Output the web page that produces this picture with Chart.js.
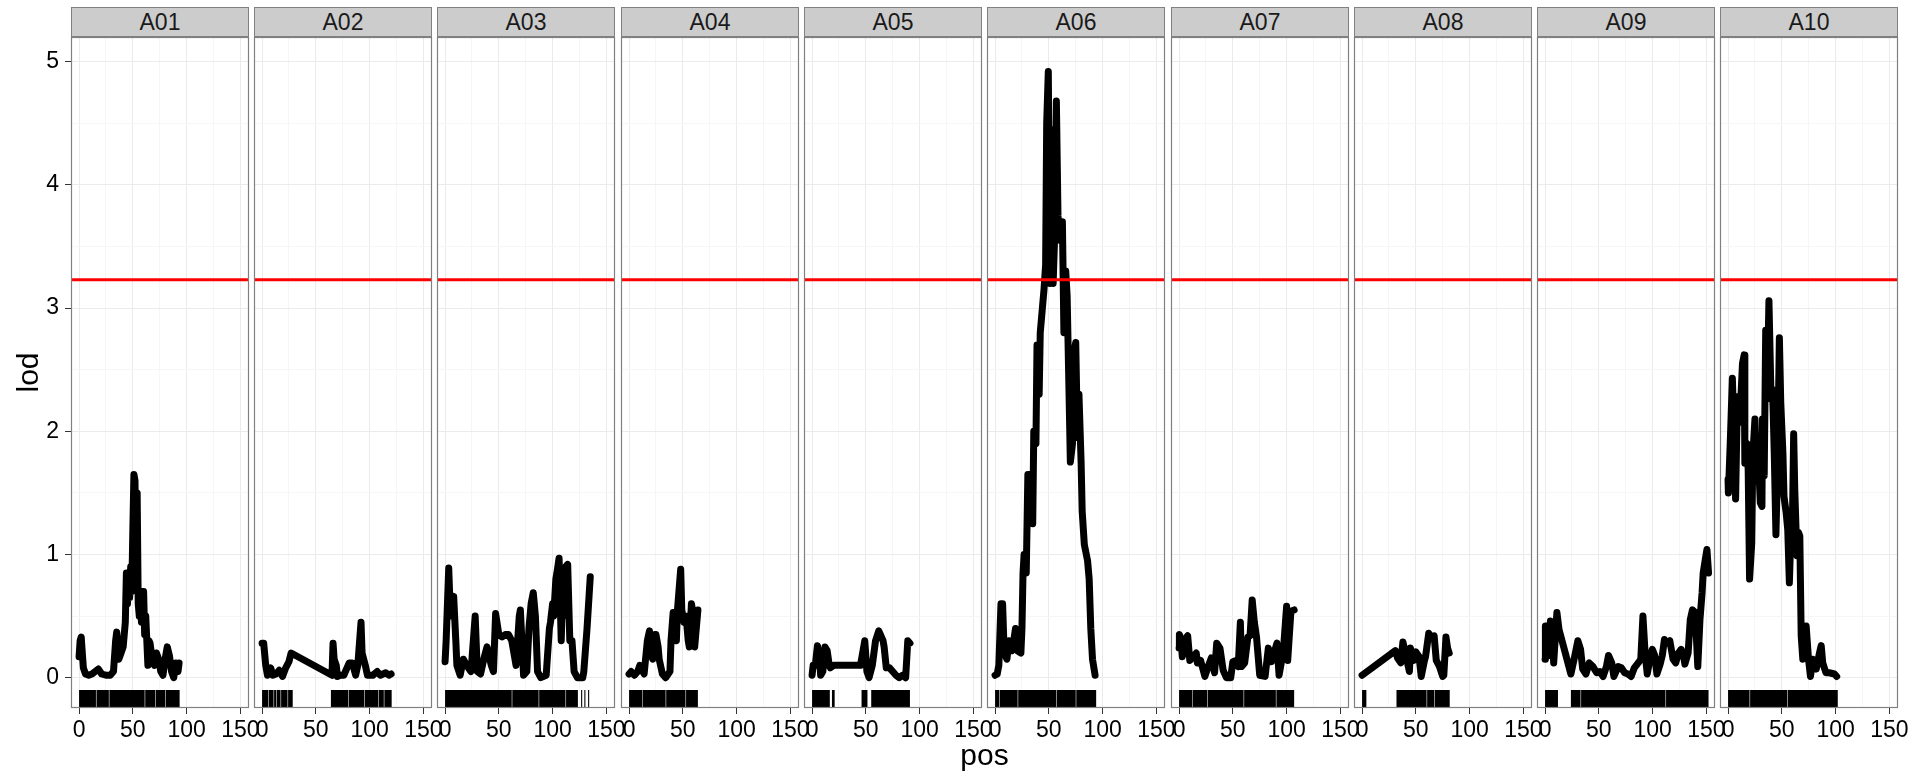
<!DOCTYPE html>
<html>
<head>
<meta charset="utf-8">
<script src="https://cdn.jsdelivr.net/npm/chart.js@4.4.1/dist/chart.umd.min.js"></script>
<style>
  html, body { margin: 0; padding: 0; background: #ffffff; }
  body { width: 1915px; height: 774px; position: relative; overflow: hidden;
         font-family: "Liberation Sans", Arial, Helvetica, sans-serif; }
  canvas.panel { position: absolute; top: 0; }
  .strip { position: absolute; top: 7px; height: 30px; box-sizing: border-box;
           background: #cccccc; border: 1px solid #808080; color: #1a1a1a;
           font-size: 23px; line-height: 28px; text-align: center; }
  .xtitle { position: absolute; left: 71px; width: 1827px; top: 740px;
            text-align: center; font-size: 30px; line-height: 30px; color: #000; }
</style>
</head>
<body>
<script>
// Chromosome facets
const chromosomes = ['A01', 'A02', 'A03', 'A04', 'A05', 'A06', 'A07', 'A08', 'A09', 'A10'];

// LOD profile per chromosome: position (cM) and LOD score
const posA01 = [0,1,2,3,4,6,9,12,15,18,21,25,29,32,34,35,37,39,41,43,44,45,46,47,48,49,50,51,52,53,54,55,56,57,58,59,60,61,62,64,65,66,68,70,72,74,76,78,80,82,84,86,88,90,92,93];
const lodA01 = [0.17,0.3,0.33,0.2,0.08,0.03,0.02,0.03,0.05,0.07,0.03,0.02,0.02,0.05,0.3,0.37,0.15,0.2,0.25,0.45,0.85,0.6,0.8,0.65,0.9,0.7,1.2,1.65,1.6,0.8,1.5,0.6,0.5,0.7,0.45,0.7,0.7,0.35,0.5,0.1,0.3,0.28,0.15,0.1,0.2,0.15,0.05,0.02,0.15,0.25,0.18,0.05,0.0,0.12,0.05,0.12];

const posA02 = [0,1.5,3.4,5,8,10,13,16,19,22,25,27,65,66,67,69,70,73,76,81,84,87,89,92,93,96,98,103,107,110,115,118,120];
const lodA02 = [0.28,0.28,0.1,0.02,0.08,0.02,0.03,0.06,0.01,0.08,0.13,0.2,0.02,0.28,0.15,0.1,0.01,0.02,0.02,0.12,0.12,0.02,0.1,0.45,0.2,0.1,0.02,0.02,0.05,0.02,0.04,0.02,0.03];

const posA03 = [0,1,3.4,5,8,10,11,14,17,20,24,25,28,30,33,36,39,43,45,47,50,53,56,59,62,66,69,70,73,76,78,80,82,84,86,89,94,97,98,100,101,103,104,106,108,109,110,112,114,116,118,120,123,128,129,132,135];
const lodA03 = [0.13,0.3,0.89,0.5,0.66,0.3,0.1,0.02,0.15,0.1,0.05,0.15,0.5,0.05,0.03,0.15,0.25,0.1,0.05,0.52,0.35,0.33,0.35,0.35,0.3,0.1,0.5,0.55,0.02,0.05,0.4,0.6,0.69,0.5,0.05,0.0,0.02,0.4,0.45,0.6,0.5,0.8,0.85,0.97,0.3,0.6,0.5,0.9,0.92,0.3,0.3,0.05,0.0,0.0,0.05,0.4,0.82];

const posA04 = [0,2,5,8,10,11,14,17,19,20,22,24,25,27,28,31,34,38,39,41,42,44,45,48,49,51,53,55,56,58,59,61,62,64];
const lodA04 = [0.03,0.05,0.02,0.05,0.1,0.08,0.03,0.3,0.38,0.2,0.15,0.35,0.35,0.25,0.15,0.03,0.0,0.05,0.3,0.53,0.45,0.3,0.55,0.88,0.55,0.45,0.5,0.3,0.25,0.6,0.55,0.25,0.35,0.55];

const posA05 = [0,1,3,5,7,8,10,12,14,16,17,20,45,49,51,53,56,59,62,66,67,69,72,75,78,81,84,87,89,91];
const lodA05 = [0.02,0.1,0.1,0.26,0.15,0.02,0.05,0.25,0.22,0.1,0.08,0.1,0.1,0.3,0.05,0.0,0.1,0.3,0.38,0.3,0.25,0.08,0.08,0.05,0.02,0.0,0.02,0.0,0.3,0.28];

const posA06 = [0,2,3.5,5.5,7,8.5,11,13,16,19,20.5,24,25,26,27,29,30.5,32,35,36,38,39,41,42,44,45.5,47,48,49.5,51,52.6,54,56,57,58.5,60,62.6,64,65.7,67,68.8,70,72,73.5,75,76.6,78,80,81,83,86,87.5,89,90.6,93];
const lodA06 = [0.02,0.03,0.1,0.6,0.6,0.2,0.15,0.3,0.22,0.4,0.22,0.2,0.4,0.85,1.0,0.85,1.65,1.65,1.25,2.0,1.9,2.7,2.3,2.8,3.0,3.15,3.35,4.5,4.92,3.2,4.45,3.2,3.75,4.68,3.75,3.55,3.7,2.8,3.3,3.1,2.3,1.75,1.9,2.65,2.72,1.95,2.3,1.75,1.35,1.08,0.95,0.8,0.4,0.15,0.02];

const posA07 = [0,0.3,2,3,7,8,10,13,16,17,20,24,27,30,33,35,38,41,44,48,50,53,55,57,58,61,64,66,68,70,72,75,80,83,86,89,91,93,97,100,101,104,107];
const lodA07 = [0.24,0.35,0.3,0.17,0.33,0.34,0.14,0.17,0.2,0.12,0.14,0.01,0.09,0.16,0.04,0.28,0.24,0.06,0.0,0.0,0.13,0.14,0.09,0.45,0.09,0.12,0.33,0.34,0.63,0.45,0.33,0.02,0.01,0.24,0.13,0.22,0.28,0.02,0.22,0.58,0.14,0.54,0.55];

const posA08 = [0,31,33,36,38,41,44,45,48,50,53,55,58,59,62,64,67,69,72,75,76,78,79.5,81];
const lodA08 = [0.02,0.22,0.16,0.12,0.29,0.17,0.05,0.24,0.14,0.21,0.17,0.01,0.14,0.17,0.36,0.33,0.34,0.14,0.09,0.01,0.02,0.33,0.24,0.2];

const posA09 = [0,0.3,2,3.4,5,6.5,8,11,13,24,27,30.5,33,35,38,41,44.5,48,51,54,57,59,62,64,68,71,74,77,80,83,86.6,89,91,93,95,97.5,99.7,102,104,107,109,111,113,116,119,121.5,124,126.5,128.7,130,133,135,137,139.6,142,144,146,147,149,150.5,152];
const lodA09 = [0.15,0.42,0.42,0.18,0.46,0.43,0.12,0.53,0.39,0.03,0.15,0.3,0.23,0.07,0.03,0.12,0.09,0.04,0.05,0.01,0.09,0.18,0.12,0.01,0.09,0.08,0.04,0.03,0.01,0.08,0.12,0.15,0.5,0.2,0.03,0.15,0.23,0.18,0.03,0.11,0.18,0.31,0.28,0.3,0.15,0.12,0.2,0.23,0.18,0.11,0.2,0.47,0.55,0.53,0.09,0.47,0.69,0.85,0.96,1.04,0.85];

const posA10 = [0,0.3,2,4,5.6,7,8.7,10,12,13.4,15,15.6,17.4,18.7,20,22,23,25,26.5,28,30,31.5,32,33.6,35,36.8,38,40,41.4,43,44.5,46,47.7,49,51,52,54,55.5,57,58.5,60,61,62,64,65.4,66.7,68,69.5,72.6,74.8,76.6,78.8,82,85,86.6,88,91,94,99,101];
const lodA10 = [1.61,1.5,1.9,2.43,1.96,1.45,2.28,2.07,2.28,2.55,2.62,1.74,1.9,1.69,0.8,1.09,1.8,2.1,1.64,1.82,1.42,1.39,2.1,1.64,2.82,2.5,3.06,2.26,2.34,1.8,1.16,1.69,2.76,2.23,1.82,1.47,1.34,1.2,0.77,1.2,1.36,1.98,1.53,0.99,1.18,1.15,0.34,0.15,0.42,0.15,0.01,0.15,0.07,0.2,0.26,0.12,0.04,0.04,0.03,0.01];

// Marker coverage (rug) per chromosome as [start, end] runs in cM
const rugA01 = [[0,15.7],[16.2,27.7],[28.2,61],[61.5,71],[71.5,80],[80.5,93.5]];
const rugA02 = [[0,5.7],[6.2,10.7],[11.2,13.2],[13.7,17.2],[17.7,23.7],[24.2,28.5],[64,80.2],[80.7,95.2],[95.7,108.2],[108.7,113.2],[113.7,120.5]];
const rugA03 = [[0,62],[62.5,87],[87.5,112],[112.5,123.5],[126.5,127.5],[129.5,130.5],[133,134]];
const rugA04 = [[0,12],[12.5,34],[34.5,52.5],[53,64]];
const rugA05 = [[0,16.5],[18.5,21],[46,51.5],[55,91]];
const rugA06 = [[0,4],[4.5,21],[21.5,57],[57.5,75],[75.5,94]];
const rugA07 = [[0,12],[12.5,26],[26.5,60],[60.5,90],[90.5,107]];
const rugA08 = [[0,4],[32,60],[60.5,67],[67.5,81.5]];
const rugA09 = [[0,12],[24,33],[33.5,112],[112.5,152]];
const rugA10 = [[0,20],[20.5,55],[55.5,102]];

// Significance threshold
const lodThreshold = 3.23;

// Axis ticks: labelled values and grid values
const xTickLabels = [0, 50, 100, 150];
const xGridValues = [0, 25, 50, 75, 100, 125, 150];
const yTickLabels = [0, 1, 2, 3, 4, 5];
const yGridValues = [0, 0.5, 1, 1.5, 2, 2.5, 3, 3.5, 4, 4.5, 5];

const profiles = [
  [posA01, lodA01, rugA01], [posA02, lodA02, rugA02], [posA03, lodA03, rugA03],
  [posA04, lodA04, rugA04], [posA05, lodA05, rugA05], [posA06, lodA06, rugA06],
  [posA07, lodA07, rugA07], [posA08, lodA08, rugA08], [posA09, lodA09, rugA09],
  [posA10, lodA10, rugA10]
];

// Layout of the facet grid
const X_MIN = -7.5, X_MAX = 158;
const Y_MIN = -0.246, Y_MAX = 5.2;
const PANEL_LEFTS = [71, 254, 437, 621, 804, 987, 1171, 1354, 1537, 1720];
const PANEL_W = 178;
const PANEL_TOP = 37, PANEL_BOTTOM = 708, PAGE_H = 774;
const Y_AXIS_W = 71, PAD_SIDE = 25;
const RUG_PX = 18;

const FONT = '"Liberation Sans", Arial, Helvetica, sans-serif';
const MAJOR_GRID = '#ebebeb', MINOR_GRID = '#f6f6f6';

const isLabelled = (list, v) => list.some(t => Math.abs(t - v) < 1e-9);

// Panel border on top of everything
const borderPlugin = {
  id: 'panelBorder',
  afterDraw(chart) {
    const { ctx, chartArea: a } = chart;
    ctx.save();
    ctx.strokeStyle = '#808080';
    ctx.lineWidth = 1.2;
    ctx.strokeRect(a.left + 0.5, a.top + 0.5, a.right - a.left - 1, a.bottom - a.top - 1);
    ctx.restore();
  }
};

profiles.forEach(([pos, lod, rug], i) => {
  const first = i === 0;
  const padL = first ? 0 : PAD_SIDE;
  const yAxisW = first ? Y_AXIS_W : 0;
  const canvasLeft = PANEL_LEFTS[i] - padL - yAxisW;
  const canvasW = padL + yAxisW + PANEL_W + PAD_SIDE;

  // strip label
  const strip = document.createElement('div');
  strip.className = 'strip';
  strip.style.left = PANEL_LEFTS[i] + 'px';
  strip.style.width = PANEL_W + 'px';
  strip.textContent = chromosomes[i];

  const canvas = document.createElement('canvas');
  canvas.className = 'panel';
  canvas.width = canvasW;
  canvas.height = PAGE_H;
  canvas.style.left = canvasLeft + 'px';
  canvas.style.width = canvasW + 'px';
  canvas.style.height = PAGE_H + 'px';
  document.body.appendChild(canvas);
  document.body.appendChild(strip);

  // rug band centred RUG_PX/2 above the panel bottom
  const unitsPerPx = (Y_MAX - Y_MIN) / (PANEL_BOTTOM - PANEL_TOP);
  const rugY = Y_MIN + (RUG_PX / 2) * unitsPerPx;
  const rugPoints = [];
  rug.forEach(([s, e]) => {
    rugPoints.push({ x: s, y: rugY }, { x: e, y: rugY }, { x: e, y: null });
  });

  new Chart(canvas, {
    type: 'line',
    data: {
      datasets: [
        {
          label: 'threshold',
          data: [{ x: X_MIN, y: lodThreshold }, { x: X_MAX, y: lodThreshold }],
          borderColor: '#ff0000', borderWidth: 3, pointRadius: 0
        },
        {
          label: chromosomes[i],
          data: pos.map((p, k) => ({ x: p, y: lod[k] })),
          borderColor: '#000000', borderWidth: 7, pointRadius: 0,
          borderJoinStyle: 'round', borderCapStyle: 'round', tension: 0
        },
        {
          label: 'markers',
          data: rugPoints,
          borderColor: '#000000', borderWidth: RUG_PX, pointRadius: 0,
          borderCapStyle: 'butt', spanGaps: false
        }
      ]
    },
    options: {
      responsive: false,
      animation: false,
      devicePixelRatio: 1,
      events: [],
      layout: { padding: { top: PANEL_TOP, left: padL, right: PAD_SIDE, bottom: 0 } },
      plugins: { legend: { display: false }, tooltip: { enabled: false } },
      scales: {
        x: {
          type: 'linear', min: X_MIN, max: X_MAX,
          afterBuildTicks: s => { s.ticks = xGridValues.map(v => ({ value: v })); },
          afterFit: s => { s.height = PAGE_H - PANEL_BOTTOM; },
          border: { display: false },
          grid: {
            color: c => isLabelled(xTickLabels, c.tick.value) ? MAJOR_GRID : MINOR_GRID,
            tickColor: c => isLabelled(xTickLabels, c.tick.value) ? '#333333' : 'rgba(0,0,0,0)',
            tickLength: 6, lineWidth: 1
          },
          ticks: {
            autoSkip: false, maxRotation: 0, minRotation: 0, padding: 3,
            color: '#000000', font: { family: FONT, size: 23 },
            callback: v => isLabelled(xTickLabels, v) ? String(v) : ''
          }
        },
        y: {
          type: 'linear', min: Y_MIN, max: Y_MAX,
          afterBuildTicks: s => { s.ticks = yGridValues.map(v => ({ value: v })); },
          afterFit: s => { s.width = yAxisW; },
          border: { display: false },
          grid: {
            color: c => isLabelled(yTickLabels, c.tick.value) ? MAJOR_GRID : MINOR_GRID,
            tickColor: c => isLabelled(yTickLabels, c.tick.value) ? '#333333' : 'rgba(0,0,0,0)',
            drawTicks: first, tickLength: 6, lineWidth: 1
          },
          ticks: {
            display: first, padding: 6,
            color: '#000000', font: { family: FONT, size: 23 },
            callback: v => isLabelled(yTickLabels, v) ? String(v) : ''
          },
          title: {
            display: first, text: 'lod', color: '#000000',
            font: { family: FONT, size: 30 }, padding: { top: 12, bottom: 0 }
          }
        }
      }
    },
    plugins: [borderPlugin]
  });
});

const xTitle = document.createElement('div');
xTitle.className = 'xtitle';
xTitle.textContent = 'pos';
document.body.appendChild(xTitle);
</script>
</body>
</html>
